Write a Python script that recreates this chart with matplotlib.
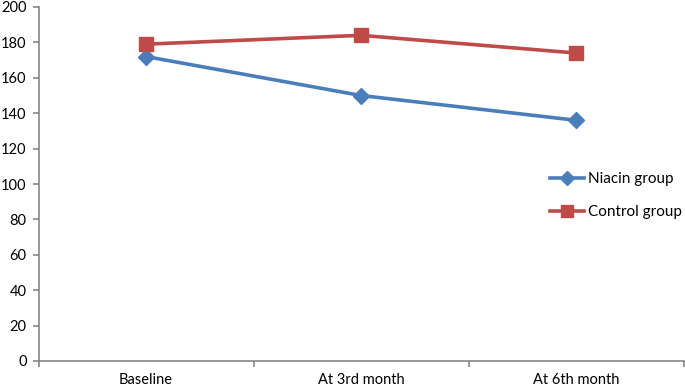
import matplotlib.pyplot as plt

plt.rcParams['font.family'] = ['Lato', 'DejaVu Sans']

categories = ["Baseline", "At 3rd month", "At 6th month"]
niacin = [172, 150, 136]
control = [179, 184, 174]

W, H = 685, 387
fig = plt.figure(figsize=(W / 100, H / 100), dpi=100)
ax = fig.add_axes([38.5 / W, (H - 361) / H, (683.5 - 38.5) / W, (361 - 7) / H])

x = list(range(len(categories)))
ax.plot(x, niacin, color="#4A7EBB", lw=2.6, marker="D", ms=8.5, label="Niacin group")
ax.plot(x, control, color="#BE4B48", lw=2.6, marker="s", ms=9.5, label="Control group")

ax.set_xlim(-0.5, 2.5)
ax.set_ylim(0, 200)
ax.set_yticks(range(0, 201, 20))
ax.set_xticks(x)
ax.set_xticklabels(categories)
ax.set_xticks([-0.5, 0.5, 1.5, 2.5], minor=True)

for s in ["top", "right"]:
    ax.spines[s].set_visible(False)
for s in ["left", "bottom"]:
    ax.spines[s].set_color("#868686")
    ax.spines[s].set_linewidth(1.2)

ax.tick_params(axis="y", length=4.5, width=1.2, color="#868686", labelsize=10.5, pad=4)
ax.tick_params(axis="x", which="major", length=0, labelsize=10.5, pad=9)
ax.tick_params(axis="x", which="minor", length=4.5, width=1.2, color="#868686")

leg = fig.legend(loc="upper left", bbox_to_anchor=(550 / W, 1 - 172 / H), frameon=False,
                 fontsize=11, handlelength=2.2, handletextpad=0.3, labelspacing=1.25,
                 borderaxespad=0, borderpad=0, markerscale=0.85)

plt.savefig("out.png", dpi=100)
